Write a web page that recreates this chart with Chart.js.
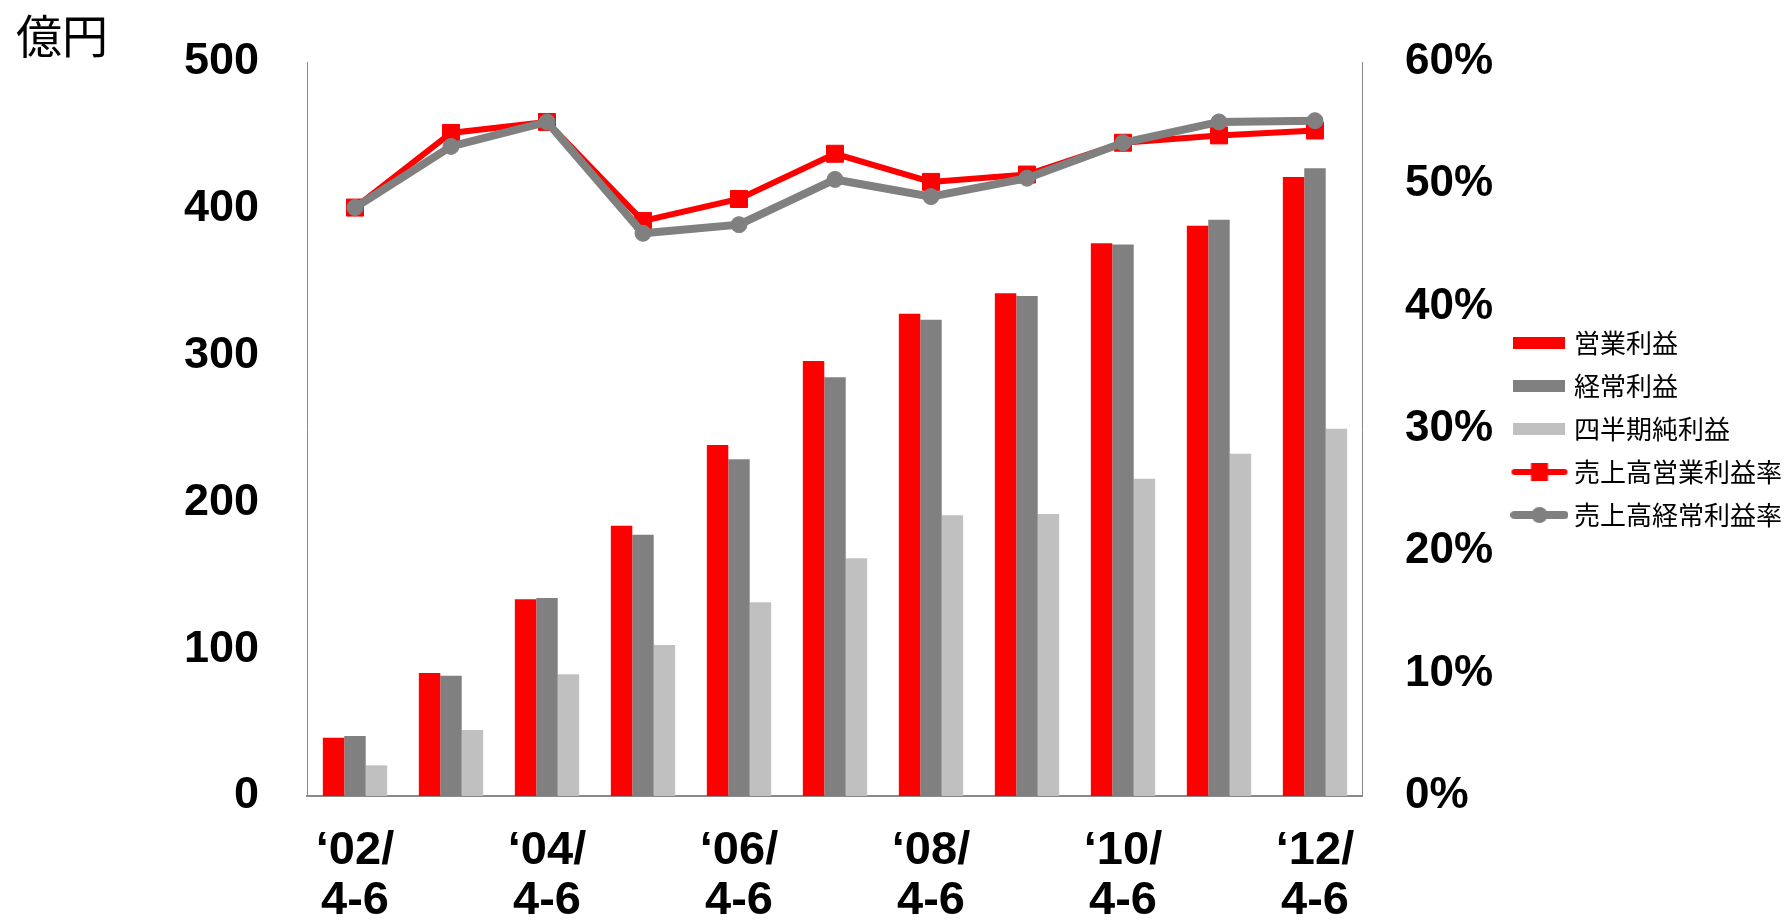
<!DOCTYPE html>
<html>
<head>
<meta charset="utf-8">
<script src="https://cdn.jsdelivr.net/npm/chart.js@4.4.1/dist/chart.umd.min.js"></script>
<style>
  html, body { margin: 0; padding: 0; background: #fff; }
  #wrap { position: relative; width: 1792px; height: 921px; }
  #unit { position: absolute; left: 16px; top: 10px; font-family: "Noto Sans CJK JP", sans-serif; font-size: 46px; line-height: 1; color: #000; }
</style>
</head>
<body>
<div id="wrap">
  <canvas id="c" width="1792" height="921"></canvas>
  <div id="unit">億円</div>
</div>
<script>
// ---- data ----
const categories = [
  ['‘02/', '4-6'], ['‘03/', '4-6'], ['‘04/', '4-6'], ['‘05/', '4-6'],
  ['‘06/', '4-6'], ['‘07/', '4-6'], ['‘08/', '4-6'], ['‘09/', '4-6'],
  ['‘10/', '4-6'], ['‘11/', '4-6'], ['‘12/', '4-6']
];
const operatingProfit = [39.7, 83.8, 134, 184.1, 239.1, 296.3, 328.5, 342.4, 376.5, 388.5, 421.7];
const ordinaryProfit  = [40.9, 81.9, 134.9, 178, 229.4, 285.2, 324.5, 340.6, 375.6, 392.6, 427.6];
const netProfit       = [20.9, 45, 82.9, 102.9, 131.9, 161.9, 191.2, 192.1, 216.1, 233.2, 250.2];
const operatingMargin = [48.1, 54.2, 55.1, 47.0, 48.8, 52.5, 50.2, 50.8, 53.4, 54.0, 54.4];
const ordinaryMargin  = [48.1, 53.1, 55.1, 46.0, 46.7, 50.4, 49.0, 50.5, 53.4, 55.1, 55.2];
const leftTicks = [0, 100, 200, 300, 400, 500];
const rightTicks = [0, 10, 20, 30, 40, 50, 60];
const seriesNames = ['営業利益', '経常利益', '四半期純利益', '売上高営業利益率', '売上高経常利益率'];

const RED = '#FF0000', GRAY = '#808080', LIGHT = '#C0C0C0', AXIS = '#898989';

// legend symbols
function boxIcon(color) {
  const c = document.createElement('canvas');
  c.width = 52; c.height = 12;
  const x = c.getContext('2d');
  x.fillStyle = color; x.fillRect(0, 0, 52, 12);
  return c;
}
function lineIcon(color, lw, marker) {
  const c = document.createElement('canvas');
  c.width = 58; c.height = 20;
  const x = c.getContext('2d');
  x.strokeStyle = color; x.lineWidth = lw; x.lineCap = 'round';
  x.beginPath(); x.moveTo(4, 10); x.lineTo(54, 10); x.stroke();
  x.fillStyle = color;
  if (marker === 'rect') { x.fillRect(20.5, 1, 17, 18); }
  else { x.beginPath(); x.arc(29, 10, 8, 0, Math.PI * 2); x.fill(); }
  return c;
}
const legendIcons = [boxIcon(RED), boxIcon(GRAY), boxIcon(LIGHT), lineIcon(RED, 6, 'rect'), lineIcon(GRAY, 8, 'circle')];

const tickFont = { family: "'Liberation Sans', Arial, sans-serif", size: 45, weight: 'bold' };
const rightTickFont = { family: "'Liberation Sans', Arial, sans-serif", size: 44, weight: 'bold' };

new Chart(document.getElementById('c'), {
  data: {
    labels: categories,
    datasets: [
      { type: 'bar', label: seriesNames[0], data: operatingProfit, backgroundColor: RED, yAxisID: 'y', order: 3,
        categoryPercentage: 0.67, barPercentage: 1 },
      { type: 'bar', label: seriesNames[1], data: ordinaryProfit, backgroundColor: GRAY, yAxisID: 'y', order: 4,
        categoryPercentage: 0.67, barPercentage: 1 },
      { type: 'bar', label: seriesNames[2], data: netProfit, backgroundColor: LIGHT, yAxisID: 'y', order: 5,
        categoryPercentage: 0.67, barPercentage: 1 },
      { type: 'line', label: seriesNames[3], data: operatingMargin, yAxisID: 'y1', order: 2,
        borderColor: RED, backgroundColor: RED, borderWidth: 6, tension: 0,
        pointStyle: 'rect', pointRadius: 12, pointBorderWidth: 1, pointBackgroundColor: RED, pointBorderColor: RED, clip: false },
      { type: 'line', label: seriesNames[4], data: ordinaryMargin, yAxisID: 'y1', order: 1,
        borderColor: GRAY, backgroundColor: GRAY, borderWidth: 8, tension: 0,
        pointStyle: 'circle', pointRadius: 8, pointBorderWidth: 1, pointBackgroundColor: GRAY, pointBorderColor: GRAY, clip: false }
    ]
  },
  options: {
    responsive: false,
    animation: false,
    layout: { padding: { top: 62, left: 0, right: 0, bottom: 0 } },
    plugins: {
      tooltip: { enabled: false },
      legend: {
        position: 'right',
        fullSize: false,
        labels: {
          usePointStyle: true,
          pointStyleWidth: 43,
          padding: 17,
          color: '#000',
          font: { family: "'Noto Sans CJK JP', sans-serif", size: 26 },
          sort: (a, b) => a.datasetIndex - b.datasetIndex,
          generateLabels: (chart) => {
            const items = Chart.defaults.plugins.legend.labels.generateLabels(chart);
            items.forEach(it => { it.pointStyle = legendIcons[it.datasetIndex]; });
            return items;
          }
        }
      }
    },
    scales: {
      x: {
        grid: { display: false },
        border: { display: true, color: AXIS, width: 2 },
        ticks: {
          autoSkip: false, maxRotation: 0, minRotation: 0, padding: 22, color: '#000',
          font: { family: "'Liberation Sans', Arial, sans-serif", size: 47, weight: 'bold', lineHeight: 1.07 },
          callback: function (value, index) { return index % 2 === 0 ? this.getLabelForValue(value) : ''; }
        },
        afterFit: (s) => { s.height = 125; s.paddingLeft = 0; s.paddingRight = 0; }
      },
      y: {
        position: 'left', min: 0, max: 500,
        grid: { display: false },
        border: { display: true, color: AXIS, width: 1 },
        afterBuildTicks: (s) => { s.ticks = leftTicks.map(v => ({ value: v })); },
        ticks: { padding: 40, color: '#000', font: tickFont },
        afterFit: (s) => { s.width = 307; s.paddingTop = 0; s.paddingBottom = 0; }
      },
      y1: {
        position: 'right', min: 0, max: 60,
        grid: { display: false },
        border: { display: true, color: AXIS, width: 1 },
        afterBuildTicks: (s) => { s.ticks = rightTicks.map(v => ({ value: v })); },
        ticks: { padding: 34, color: '#000', font: rightTickFont, callback: (v) => v + '%' },
        afterFit: (s) => { s.width = 138; s.paddingTop = 0; s.paddingBottom = 0; }
      }
    }
  }
});
</script>
</body>
</html>
